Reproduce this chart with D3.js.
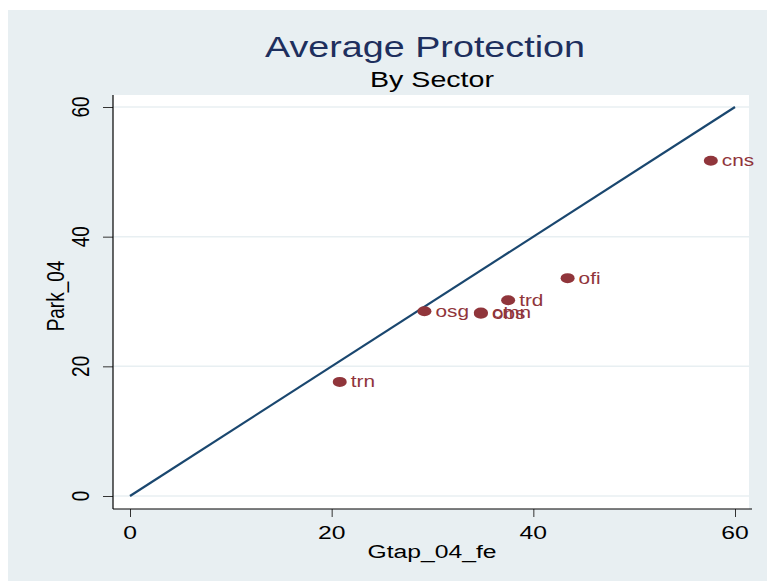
<!DOCTYPE html>
<html>
<head>
<meta charset="utf-8">
<script src="https://cdn.jsdelivr.net/npm/d3@7"></script>
<style>
  html, body { margin: 0; padding: 0; background: #ffffff; }
  svg { display: block; font-family: "Liberation Sans", Arial, sans-serif; }
</style>
</head>
<body>
<svg id="chart" width="767" height="581"></svg>
<script>
// Sector scatter: Gtap_04_fe against Park_04, with a 45-degree reference line
const sectors = ["cns", "ofi", "trd", "osg", "cmn", "obs", "trn"];
const gtap    = [57.6, 43.4, 37.5, 29.2, 34.8, 34.8, 20.8];
const park    = [51.7, 33.6, 30.2, 28.5, 28.3, 28.1, 17.6];
const xTicks  = [0, 20, 40, 60];
const yTicks  = [0, 20, 40, 60];
const refLine = [[0, 0], [60, 60]];

const SX = 1.3; // horizontal text stretch

const svg = d3.select("#chart");

// outer graph region
svg.append("rect").attr("x", 8).attr("y", 10).attr("width", 759).attr("height", 571)
  .attr("fill", "#e8eff2");

const plot = { left: 113, right: 749, top: 95, bottom: 509 };
svg.append("rect")
  .attr("x", plot.left).attr("y", plot.top)
  .attr("width", plot.right - plot.left).attr("height", plot.bottom - plot.top)
  .attr("fill", "#ffffff");

const x = d3.scaleLinear().domain([0, 60]).range([130, 735]);
const y = d3.scaleLinear().domain([0, 60]).range([496, 107]);

function stretchedText(g, tx, ty, str, opts) {
  return g.append("text")
    .attr("transform", `translate(${tx},${ty}) scale(${SX},1)` + (opts.rotate ? " rotate(-90)" : ""))
    .attr("text-anchor", opts.anchor || "middle")
    .attr("font-size", opts.size)
    .attr("fill", opts.fill || "#000")
    .text(str);
}

// horizontal grid lines
svg.append("g").selectAll("line").data(yTicks).join("line")
  .attr("x1", plot.left).attr("x2", plot.right)
  .attr("y1", d => y(d)).attr("y2", d => y(d))
  .attr("stroke", "#e8eff2").attr("stroke-width", 1.5);

// axes
const xAxis = svg.append("g").attr("transform", `translate(0,${plot.bottom})`)
  .call(d3.axisBottom(x).tickValues(xTicks).tickSize(8).tickFormat(""));
const yAxis = svg.append("g").attr("transform", `translate(${plot.left},0)`)
  .call(d3.axisLeft(y).tickValues(yTicks).tickSize(10).tickFormat(""));
[xAxis, yAxis].forEach(a => {
  a.select(".domain").remove();
  a.selectAll(".tick line").attr("stroke", "#333").attr("stroke-width", 1);
});
svg.append("line").attr("x1", plot.left).attr("x2", plot.right + 3)
  .attr("y1", plot.bottom).attr("y2", plot.bottom).attr("stroke", "#000").attr("stroke-width", 1.2);
svg.append("line").attr("x1", plot.left).attr("x2", plot.left)
  .attr("y1", plot.top).attr("y2", plot.bottom).attr("stroke", "#000").attr("stroke-width", 1.2);

// tick labels
const labels = svg.append("g");
xTicks.forEach(v => stretchedText(labels, x(v), 539, String(v), { size: 19 }));
yTicks.forEach(v => stretchedText(labels, 89, y(v), String(v), { size: 19, rotate: true }));

// axis titles
stretchedText(labels, 432, 558, "Gtap_04_fe", { size: 19 });
stretchedText(labels, 64, 296, "Park_04", { size: 19, rotate: true });

// titles
stretchedText(labels, 425, 57, "Average Protection", { size: 29, fill: "#1e2f5e" });
stretchedText(labels, 432, 87, "By Sector", { size: 22 });

// 45-degree line
svg.append("path")
  .datum(refLine)
  .attr("d", d3.line().x(d => x(d[0])).y(d => y(d[1])))
  .attr("fill", "none").attr("stroke", "#1a476f").attr("stroke-width", 2.2);

// markers and their labels
const pts = sectors.map((s, i) => ({ s, gx: gtap[i], py: park[i] }));
svg.append("g").selectAll("ellipse").data(pts).join("ellipse")
  .attr("cx", d => x(d.gx)).attr("cy", d => y(d.py))
  .attr("rx", 7).attr("ry", 5)
  .attr("fill", "#90353b");
const lbl = svg.append("g");
pts.forEach(d => stretchedText(lbl, x(d.gx) + 11, y(d.py) + 5.5, d.s,
  { size: 16, anchor: "start", fill: "#90353b" }));
</script>
</body>
</html>
